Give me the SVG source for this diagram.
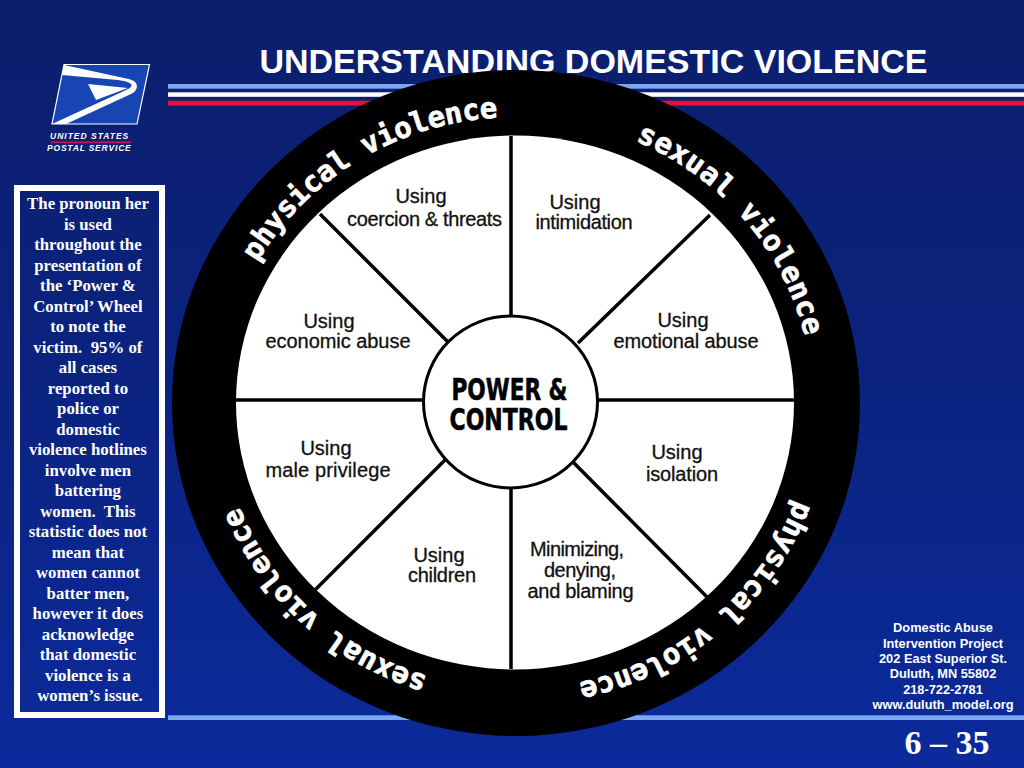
<svg xmlns="http://www.w3.org/2000/svg" width="1024" height="768" viewBox="0 0 1024 768">
<style>
.ring{font-family:"DejaVu Sans Mono","Liberation Mono",monospace;font-weight:700;font-size:29px;fill:#fff;stroke:#fff;stroke-width:.7}
.lab{font-family:"Liberation Sans",Arial,sans-serif;font-size:20px;fill:#111;stroke:#111;stroke-width:.3;text-anchor:middle}
.side{font-family:"Liberation Serif","Times New Roman",serif;font-weight:700;font-size:16.8px;fill:#fff;text-anchor:middle}
.addr{font-family:"Liberation Sans",Arial,sans-serif;font-weight:700;font-size:12.8px;fill:#fff;text-anchor:middle}
.spoke{stroke:#000;stroke-width:3.5;fill:none}
.usps{font-family:"Liberation Sans",Arial,sans-serif;font-weight:700;font-style:italic;font-size:8.5px;fill:#fff}
.hubt{font-family:"DejaVu Sans",sans-serif;font-weight:700;font-size:30px;text-anchor:middle;fill:#000;stroke:#000;stroke-width:.6}
</style>
<defs>
<linearGradient id="bg" x1="0" y1="0" x2="0" y2="1"><stop offset="0" stop-color="#0b1f6c"/><stop offset=".5" stop-color="#0b2380"/><stop offset="1" stop-color="#0b2a9c"/></linearGradient>
<path id="a1" d="M257.5 262.2A297 286 0 0 1 567.6 121.3"/>
<path id="a2" d="M635.4 141A297 286 0 0 1 813 403"/>
<path id="a3" d="M795.5 500A297 286 0 0 1 464.4 684.7"/>
<path id="a4" d="M427.8 676.1A297 286 0 0 1 219 403"/>
</defs>
<rect width="1024" height="768" fill="url(#bg)"/>
<g id="header">
<text x="593.5" y="73" font-family="Liberation Sans,Arial,sans-serif" font-weight="700" font-size="34" fill="#fff" text-anchor="middle">UNDERSTANDING DOMESTIC VIOLENCE</text>
<rect x="168" y="84" width="856" height="4.7" fill="#7ba6f0"/>
<rect x="168" y="92.3" width="856" height="4.5" fill="#fff"/>
<rect x="168" y="100.7" width="856" height="4.8" fill="#e8103c"/>
<rect x="168" y="715.3" width="856" height="4.7" fill="#7ba6f0"/>
</g>
<g id="logo">
<path d="M64 64.500H149.500L137 124H52Z" fill="#1746b4" stroke="#fff" stroke-width="1.200"/>
<path d="M64 65L124 78Q137 80 137 86Q137 91 131 94L66 124H52L124 91Q134 87 131 84Q128 81 118 80L62 75Z" fill="#fff"/>
<path d="M88 84L128 88L96 100Z" fill="#fff"/>
<text class="usps" x="50" y="139" letter-spacing="1">UNITED STATES</text>
<rect x="51" y="141.500" width="80" height="1.600" fill="#c01a5a"/>
<text class="usps" x="47" y="151" letter-spacing=".8">POSTAL SERVICE</text>
</g>
<g id="note">
<rect x="17" y="188" width="145" height="527" fill="none" stroke="#fff" stroke-width="6"/>
<text class="side">
<tspan x="90" y="209">The pronoun her</tspan>
<tspan x="90" y="229.5">is used</tspan>
<tspan x="90" y="250">throughout the</tspan>
<tspan x="90" y="270.5">presentation of</tspan>
<tspan x="90" y="291">the ‘Power &amp;</tspan>
<tspan x="90" y="311.5">Control’ Wheel</tspan>
<tspan x="90" y="332">to note the</tspan>
<tspan x="90" y="352.5" xml:space="preserve">victim.  95% of</tspan>
<tspan x="90" y="373">all cases</tspan>
<tspan x="90" y="393.5">reported to</tspan>
<tspan x="90" y="414">police or</tspan>
<tspan x="90" y="434.5">domestic</tspan>
<tspan x="90" y="455">violence hotlines</tspan>
<tspan x="90" y="475.5">involve men</tspan>
<tspan x="90" y="496">battering</tspan>
<tspan x="90" y="516.5" xml:space="preserve">women.  This</tspan>
<tspan x="90" y="537">statistic does not</tspan>
<tspan x="90" y="557.5">mean that</tspan>
<tspan x="90" y="578">women cannot</tspan>
<tspan x="90" y="598.5">batter men,</tspan>
<tspan x="90" y="619">however it does</tspan>
<tspan x="90" y="639.5">acknowledge</tspan>
<tspan x="90" y="660">that domestic</tspan>
<tspan x="90" y="680.5">violence is a</tspan>
<tspan x="90" y="701">women’s issue.</tspan>
</text>
</g>
<g id="wheel">
<ellipse cx="516" cy="403" rx="344" ry="333" fill="#000"/>
<ellipse cx="515" cy="402.5" rx="279" ry="267" fill="#fff"/>
</g>
<g id="connectors">
<path class="spoke" d="M511 136V317M511 488V669M236 400H423M598 400H794"/>
<path class="spoke" d="M320 214L448 342M710 215L578 343M315 590L445 460M707 597L573 462"/>
</g>
<g id="ring-labels">
<text class="ring"><textPath href="#a1" textLength="292">physical violence</textPath></text>
<text class="ring"><textPath href="#a2" textLength="268">sexual violence</textPath></text>
<text class="ring"><textPath href="#a3" textLength="296">physical violence</textPath></text>
<text class="ring"><textPath href="#a4" textLength="262">sexual violence</textPath></text>
</g>
<g id="hub">
<ellipse cx="510.5" cy="402" rx="87" ry="86" fill="#fff" stroke="#000" stroke-width="3"/>
<text class="hubt" x="509.5" y="400" textLength="116" lengthAdjust="spacingAndGlyphs">POWER &amp;</text>
<text class="hubt" x="508.5" y="430" textLength="118" lengthAdjust="spacingAndGlyphs">CONTROL</text>
</g>
<g id="n-coercion"><text class="lab" x="421" y="203">Using</text><text class="lab" x="424.5" y="226" textLength="155">coercion &amp; threats</text></g>
<g id="n-intimidation"><text class="lab" x="575" y="209">Using</text><text class="lab" x="584" y="229" textLength="97">intimidation</text></g>
<g id="n-emotional"><text class="lab" x="683" y="327">Using</text><text class="lab" x="686" y="348" textLength="145">emotional abuse</text></g>
<g id="n-isolation"><text class="lab" x="677" y="459">Using</text><text class="lab" x="682" y="481" textLength="72">isolation</text></g>
<g id="n-minimizing"><text class="lab" x="577" y="556" textLength="94">Minimizing,</text><text class="lab" x="580" y="577" textLength="72">denying,</text><text class="lab" x="580.5" y="598" textLength="106">and blaming</text></g>
<g id="n-children"><text class="lab" x="439" y="562">Using</text><text class="lab" x="442" y="582" textLength="68">children</text></g>
<g id="n-privilege"><text class="lab" x="326" y="455">Using</text><text class="lab" x="328" y="477" textLength="125">male privilege</text></g>
<g id="n-economic"><text class="lab" x="329" y="328">Using</text><text class="lab" x="338" y="348" textLength="145">economic abuse</text></g>
<g id="footer">
<text class="addr"><tspan x="943" y="632">Domestic Abuse</tspan><tspan x="943" y="647.5">Intervention Project</tspan><tspan x="943" y="663">202 East Superior St.</tspan><tspan x="943" y="678">Duluth, MN 55802</tspan><tspan x="943" y="693.5">218-722-2781</tspan><tspan x="943" y="709">www.duluth_model.org</tspan></text>
<text x="947" y="754" font-family="Liberation Serif,Times New Roman,serif" font-weight="700" font-size="34" fill="#fff" text-anchor="middle">6 – 35</text>
</g>
</svg>
